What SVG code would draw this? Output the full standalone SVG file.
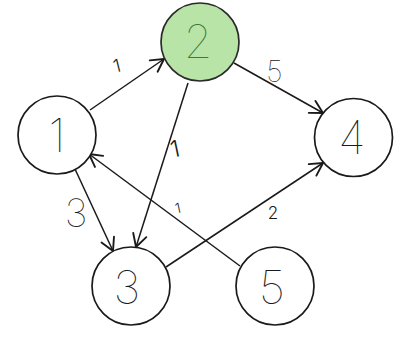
<svg xmlns="http://www.w3.org/2000/svg" width="400" height="337" viewBox="0 0 400 337">
<style>
.node circle{fill:#ffffff;stroke:#1a1a1a;stroke-width:1.7}
.node text{font-family:Inter,"Open Sans",sans-serif;font-weight:100;font-size:46px;fill:#1a1a1a;text-anchor:middle}
#n2 circle{fill:#b9e4a8;stroke:#2a2a2a}
#n2 text{fill:#3d7a36}
.edges line{stroke:#1a1a1a;stroke-width:1.5;fill:none;marker-end:url(#arr)}
.lbl{font-family:Inter,"Open Sans",sans-serif;font-weight:300;fill:#1a1a1a;text-anchor:middle}
.lbl.big{font-weight:100}
</style>
<defs>
<marker id="arr" markerUnits="userSpaceOnUse" markerWidth="20" markerHeight="20" viewBox="-12 -8 14 16" refX="0" refY="0" orient="auto">
<path d="M-10,-5.5 L0,0 L-10,5.5" fill="none" stroke="#1a1a1a" stroke-width="1.5" stroke-linecap="round" stroke-linejoin="round"/>
</marker>
</defs>
<rect width="400" height="337" fill="#ffffff"/>
<g class="edges">
<line x1="90" y1="110" x2="164" y2="59"/>
<line x1="234" y1="63" x2="323" y2="113"/>
<line x1="188" y1="83" x2="136" y2="247"/>
<line x1="75" y1="169" x2="113" y2="251"/>
<line x1="240" y1="266" x2="89" y2="154"/>
<line x1="166" y1="267" x2="323" y2="163"/>
</g>
<g id="edge-labels">
<text class="lbl" x="117" y="72" font-size="18" transform="rotate(-14 117 66)">1</text>
<text class="lbl big" x="274.5" y="82" font-size="29">5</text>
<text class="lbl" x="175" y="157" font-size="23" transform="rotate(-12 175 149)">1</text>
<text class="lbl big" x="76" y="227" font-size="39">3</text>
<text class="lbl" x="178" y="213" font-size="14" transform="rotate(-12 178 208)">1</text>
<text class="lbl" x="273" y="219" font-size="17">2</text>
</g>
<g id="n1" class="node"><circle cx="57" cy="135" r="39"/><text x="57" y="152">1</text></g>
<g id="n2" class="node"><circle cx="200" cy="42" r="39"/><text x="198" y="58">2</text></g>
<g id="n3" class="node"><circle cx="131" cy="286" r="39"/><text x="127" y="304" font-size="54">3</text></g>
<g id="n4" class="node"><circle cx="353.5" cy="137.5" r="39"/><text x="352" y="154">4</text></g>
<g id="n5" class="node"><circle cx="275" cy="286" r="39"/><text x="272" y="304" font-size="50">5</text></g>
</svg>
